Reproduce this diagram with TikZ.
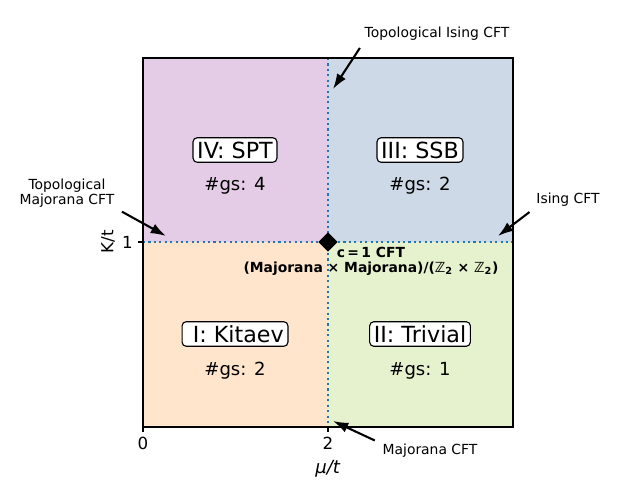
\documentclass[tikz,border=0pt]{standalone}
\usepackage{fontspec}
\setmainfont{DejaVu Sans}
\usetikzlibrary{arrows.meta,positioning,calc,shapes.geometric}
\definecolor{sptbg}{HTML}{E4CCE6}
\definecolor{ssbbg}{HTML}{CDD9E6}
\definecolor{kitbg}{HTML}{FEE5CC}
\definecolor{trivbg}{HTML}{E6F2CE}
\definecolor{critblue}{HTML}{1F77B4}

\begin{document}
\begin{tikzpicture}[x=0.72pt,y=-0.72pt,
  phase/.style={draw,fill=white,rounded corners=3pt,line width=0.8pt,
    inner xsep=3pt,inner ysep=3pt,text height=11.7pt,text depth=0pt,
    font=\fontsize{16}{19}\selectfont},
  gs/.style={font=\fontsize{13}{15}\selectfont},
  tick/.style={inner sep=0pt,font=\fontsize{12}{14}\selectfont},
  ann/.style={inner sep=0pt,align=center,font=\fontsize{10}{11}\selectfont},
  crit/.style={critblue,line width=1.5pt,dash pattern=on 1.5pt off 2.4pt},
  annarrow/.style={-{Latex[length=11pt,width=7.5pt]},line width=1.5pt,shorten <=6pt}]
  \useasboundingbox (0,0) rectangle (640,480);
  % phase regions
  \foreach \x/\y/\c in {143/58/sptbg,328/58/ssbbg,143/242/kitbg,328/242/trivbg}
    \fill[\c] (\x,\y) rectangle ++(185,185);
  \draw[crit] (328,58) -- (328,427);
  \draw[crit] (143,242) -- (513,242);
  \draw[line width=0.8pt] (143,58) rectangle (513,427);
  % ticks
  \foreach \x/\l in {143/0,328/2}{
    \draw[line width=0.8pt] (\x,427) -- ++(0,5);
    \node[tick,anchor=north] (xt\l) at (\x,437) {\l};}
  \draw[line width=0.8pt] (143,242) -- ++(-5,0);
  \node[tick,anchor=east] (yt1) at (133,242) {1};
  \node[tick,font=\fontsize{13}{15}\selectfont] (xlab) at (328,469) {\textit{μ/t}};
  \node[tick,rotate=90] (ylab) at (108,242) {K/t};
  % phases
  \node[phase] (spt) at (235,150) {IV: SPT};
  \node[gs] (gsSpt) at (235,186) {\#gs: 4};
  \node[phase] (ssb) at (420,150) {III: SSB};
  \node[gs] (gsSsb) at (420,186) {\#gs: 2};
  \node[phase] (kit) at (235,334) {\phantom{I}I: Kitaev};
  \node[gs] (gsKit) at (235,371) {\#gs: 2};
  \node[phase] (triv) at (420,334) {II: Trivial};
  \node[gs] (gsTriv) at (420,371) {\#gs: 1};
  % multicritical point
  \node[diamond,fill=black,inner sep=0pt,minimum size=14pt] (cp) at (328,242) {};
  \node[ann,font=\fontsize{10}{11}\selectfont\bfseries] (cpLbl) at (371,261)
    {c\,=\,1 CFT\\(Majorana × Majorana)/(ℤ\textsubscript{2} × ℤ\textsubscript{2})};
  % annotations
  \node[ann] (tIsing) at (437,34) {Topological Ising CFT};
  \coordinate (tIsingTip) at (333,89);
  \draw[annarrow] (tIsing.south west) -- (tIsingTip);
  \node[ann] (tMaj) at (67,193) {Topological\\Majorana CFT};
  \coordinate (tMajTip) at (166,236);
  \draw[annarrow] (tMaj.south east) -- (tMajTip);
  \node[ann] (ising) at (568,200) {Ising CFT};
  \coordinate (isingTip) at (498,236);
  \draw[annarrow] (ising.south west) -- (isingTip);
  \node[ann] (maj) at (430,451) {Majorana CFT};
  \coordinate (majTip) at (333,421);
  \draw[annarrow] (maj.north west) -- (majTip);
\end{tikzpicture}
\end{document}
